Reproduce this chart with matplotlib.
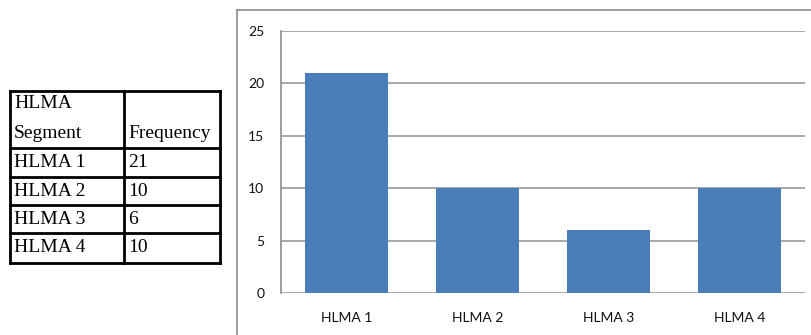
import matplotlib.pyplot as plt
from matplotlib.lines import Line2D

segments = ['HLMA 1', 'HLMA 2', 'HLMA 3', 'HLMA 4']
frequency = [21, 10, 6, 10]
yticks = [0, 5, 10, 15, 20, 25]

W, H = 812, 335
fig = plt.figure(figsize=(W / 100, H / 100), dpi=100)


def fx(px):
    return px / W


def fy(py):
    return 1 - py / H


# chart frame (cut off at the right and bottom)
fig.add_artist(Line2D([fx(237), fx(237)], [fy(10), fy(340)], color='#8c8c8c', lw=1.2))
fig.add_artist(Line2D([fx(237), fx(815)], [fy(10), fy(10)], color='#8c8c8c', lw=1.2))

# bar chart
ax = fig.add_axes([fx(281), fy(293), fx(805) - fx(281), fy(31) - fy(293)])
x = range(len(segments))
ax.bar(x, frequency, width=0.64, color='#4a7ebb', zorder=3)
ax.set_xlim(-0.5, len(segments) - 0.5)
ax.set_ylim(0, 25)
ax.set_yticks(yticks)
ax.set_xticks(list(x))
ax.set_xticklabels(segments)
ax.yaxis.grid(True, color='#9a9a9a', lw=1.2, zorder=0)
for s in ['top', 'right', 'bottom']:
    ax.spines[s].set_visible(False)
ax.spines['left'].set_color('#8c8c8c')
ax.spines['left'].set_linewidth(1.2)
ax.tick_params(axis='y', length=0, pad=12, labelsize=10, labelcolor='#111111')
ax.tick_params(axis='x', length=0, pad=14, labelsize=10, labelcolor='#111111')
for lab in ax.get_xticklabels() + ax.get_yticklabels():
    lab.set_family(['Lato', 'DejaVu Sans'])

# table on the left
tl, tm, tr = 10, 124, 220
rows_y = [91, 148, 177, 205, 233, 263]
lw = 2
for yy in rows_y:
    fig.add_artist(Line2D([fx(tl), fx(tr)], [fy(yy), fy(yy)], color='black', lw=lw))
for xx in [tl, tm, tr]:
    fig.add_artist(Line2D([fx(xx), fx(xx)], [fy(rows_y[0]), fy(rows_y[-1])], color='black', lw=lw))

tfont = dict(family='Liberation Serif', fontsize=14, color='black', va='center', ha='left')
fig.text(fx(tl + 4), fy(104), 'HLMA', **tfont)
fig.text(fx(tl + 4), fy(133), 'Segment', **tfont)
fig.text(fx(tm + 4), fy(133), 'Frequency', **tfont)
for i, (seg, f) in enumerate(zip(segments, frequency)):
    yc = (rows_y[i + 1] + rows_y[i + 2]) / 2
    fig.text(fx(tl + 4), fy(yc), seg, **tfont)
    fig.text(fx(tm + 4), fy(yc), str(f), **tfont)

fig.savefig('out.png', dpi=100)
